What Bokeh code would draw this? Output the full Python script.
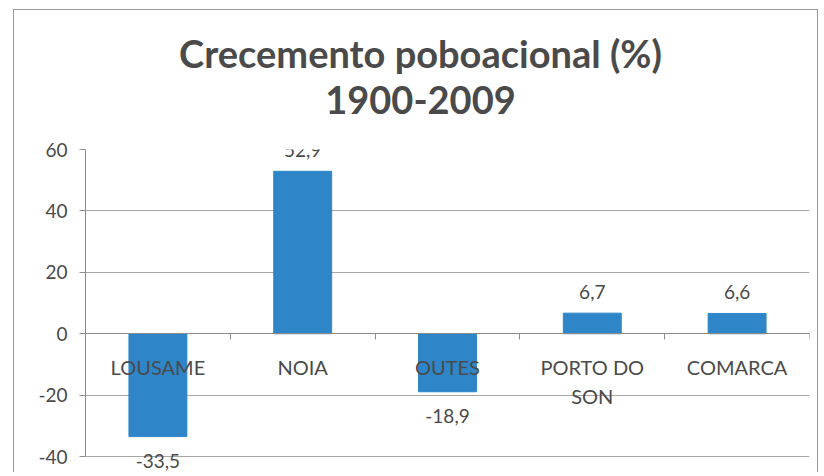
from bokeh.plotting import figure
from bokeh.models import ColumnDataSource, LabelSet, FixedTicker, Range1d, Div
from bokeh.layouts import column
from bokeh.core.properties import value
from bokeh.embed import file_html
from bokeh.resources import INLINE

# ---- data ----
categories = ["LOUSAME", "NOIA", "OUTES", "PORTO DO SON", "COMARCA"]
axis_labels = ["LOUSAME", "NOIA", "OUTES", "PORTO DO\nSON", "COMARCA"]
values = [-33.5, 52.9, -18.9, 6.7, 6.6]
value_labels = ["-33,5", "52,9", "-18,9", "6,7", "6,6"]
y_ticks = [-40, -20, 0, 20, 40, 60]
y_tick_labels = ["-40", "-20", "0", "20", "40", "60"]
title_line1 = "Crecemento poboacional (%)"
title_line2 = "1900-2009"

FONT = "Lato"
BAR = "#2e86c8"
TXT = "#4a4a4a"
AX = "#8c8c8c"
W = 803

xs = [i + 0.5 for i in range(len(categories))]
source = ColumnDataSource(dict(x=xs, top=values, cat=categories, lbl=value_labels))
pos = [i for i, v in enumerate(values) if v >= 0]
neg = [i for i, v in enumerate(values) if v < 0]
src_pos = ColumnDataSource(dict(x=[xs[i] for i in pos], y=[values[i] for i in pos], lbl=[value_labels[i] for i in pos]))
src_neg = ColumnDataSource(dict(x=[xs[i] for i in neg], y=[values[i] for i in neg], lbl=[value_labels[i] for i in neg]))

title_div = Div(
    text=(f'<div style="width:{W}px;box-sizing:border-box;padding:20px 0 0 10px;'
          f'font-family:{FONT};font-weight:bold;font-size:38px;line-height:46px;'
          f'color:{TXT};text-align:center">{title_line1}<br>{title_line2}</div>'),
    width=W, height=129, margin=0)

p = figure(width=W, height=333, output_backend="svg", toolbar_location=None, title=None,
           x_range=Range1d(0, len(categories)), y_range=Range1d(-45.2, y_ticks[-1]),
           min_border_left=71, min_border_right=8, min_border_top=10, min_border_bottom=0,
           margin=0)

p.vbar(x="x", top="top", bottom=0, width=0.4, source=source, fill_color=BAR, line_color=BAR)

# y axis
ya = p.yaxis[0]
ya.ticker = FixedTicker(ticks=y_ticks, minor_ticks=[])
ya.bounds = (y_ticks[0], y_ticks[-1])
ya.major_label_overrides = {t: l for t, l in zip(y_ticks, y_tick_labels)}
ya.major_label_text_font = FONT
ya.major_label_text_font_size = "19px"
ya.major_label_text_color = TXT
ya.axis_line_color = AX
ya.major_tick_line_color = AX
ya.major_tick_out = 6
ya.major_tick_in = 0
ya.major_label_standoff = 12

# x axis at zero
xa = p.xaxis[0]
xa.fixed_location = 0
xa.ticker = FixedTicker(ticks=xs, minor_ticks=list(range(len(categories) + 1)))
xa.major_label_overrides = {x: l for x, l in zip(xs, axis_labels)}
xa.major_label_text_font = FONT
xa.major_label_text_font_size = "20px"
xa.major_label_text_color = TXT
xa.axis_line_color = AX
xa.major_tick_line_color = None
xa.major_tick_out = 0
xa.major_tick_in = 0
xa.minor_tick_line_color = AX
xa.minor_tick_out = 6
xa.minor_tick_in = 0
xa.major_label_standoff = 15

p.xgrid.visible = False
p.ygrid.ticker = FixedTicker(ticks=y_ticks)
p.ygrid.grid_line_color = "#a6a6a6"
p.outline_line_color = None

for src, off in ((src_pos, 21), (src_neg, -24)):
    p.add_layout(LabelSet(x="x", y="y", text="lbl", source=src, y_offset=off,
                          text_align="center", text_baseline="middle", text_font=value(FONT),
                          text_font_size="19px", text_color=TXT))

layout = column(title_div, p, spacing=0)
layout.margin = (9, 0, 0, 13)
layout.styles = {"border-top": "1px solid #9a9a9a", "border-left": "1px solid #9a9a9a",
                 "border-right": "1px solid #9a9a9a"}

open("out.html", "w").write(file_html(layout, INLINE))
